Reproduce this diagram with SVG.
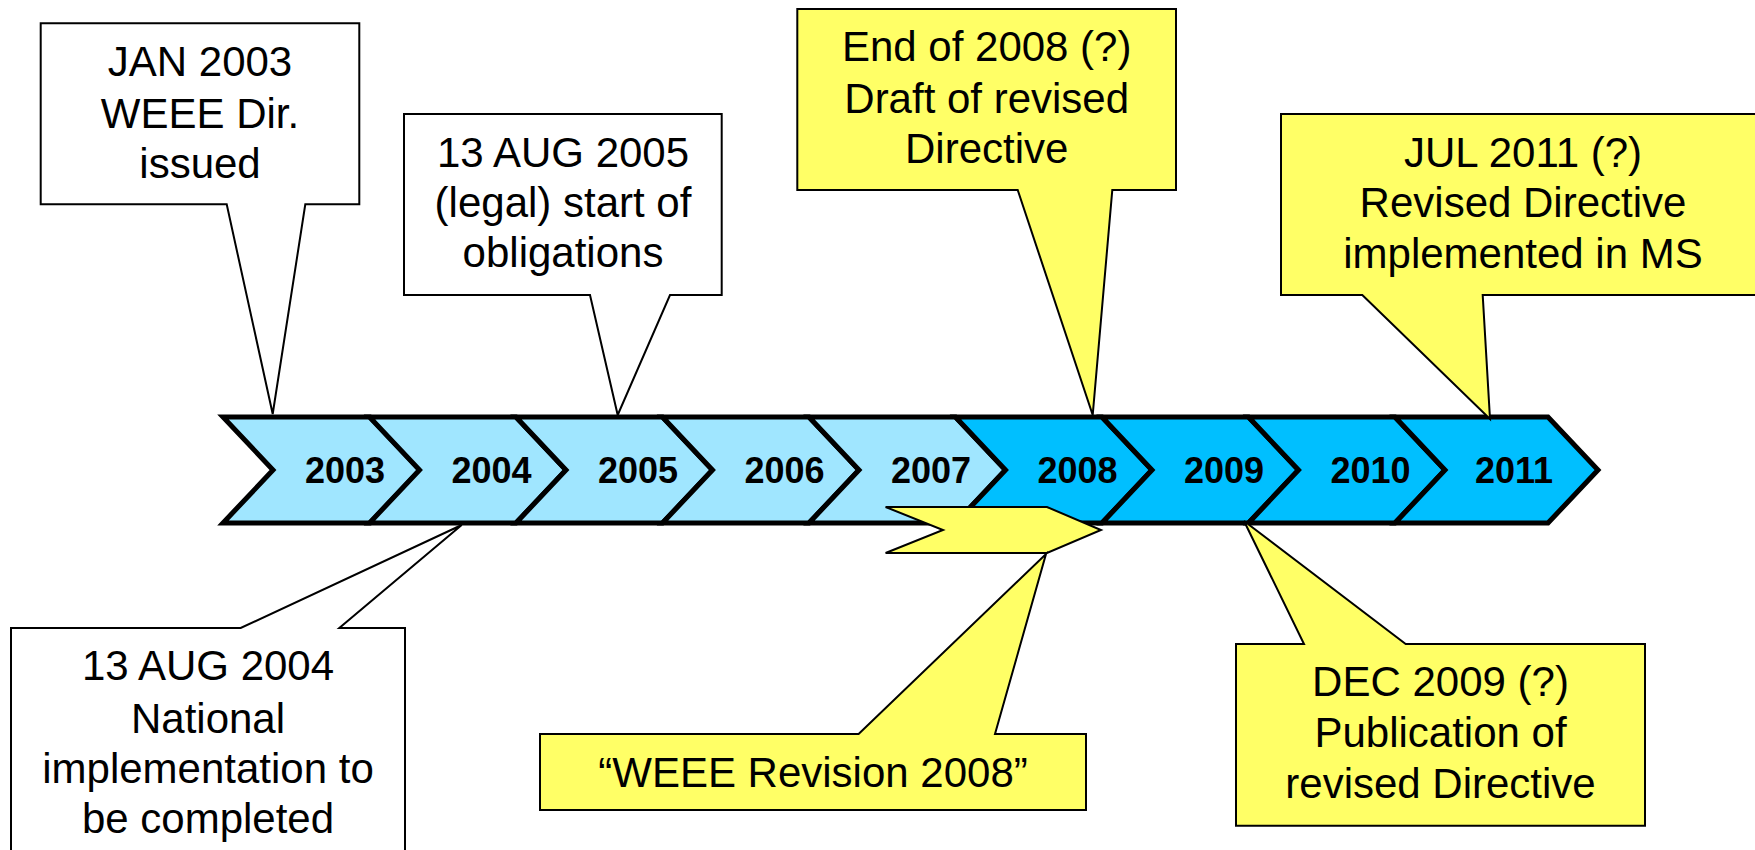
<svg xmlns="http://www.w3.org/2000/svg" width="1755" height="850" viewBox="0 0 1755 850">
<style>
.chev{stroke:#000;stroke-width:5;stroke-linejoin:miter}
.light{fill:#A0E6FF}
.dark{fill:#00BFFF}
.yr{font-family:"Liberation Sans",Arial,Helvetica,sans-serif;font-weight:bold;font-size:36px;fill:#000;text-anchor:middle}
.co{stroke:#000;stroke-width:2;stroke-linejoin:miter}
.w{fill:#FFFFFF}
.y{fill:#FFFF66}
.t{font-family:"Liberation Sans",Arial,Helvetica,sans-serif;font-size:42px;fill:#000;text-anchor:middle}
</style>
<rect width="1755" height="850" fill="#FFFFFF"/>
<g id="timeline">
<g id="y2003"><polygon class="chev light" points="223,417 370,417 420,470 370,523 223,523 273,470"/><text class="yr" x="345" y="483">2003</text></g>
<g id="y2004"><polygon class="chev light" points="369.5,417 516,417 566,470 516,523 369.5,523 419.5,470"/><text class="yr" x="491.5" y="483">2004</text></g>
<g id="y2005"><polygon class="chev light" points="516,417 662.5,417 712.5,470 662.5,523 516,523 566,470"/><text class="yr" x="638" y="483">2005</text></g>
<g id="y2006"><polygon class="chev light" points="662.5,417 809,417 859,470 809,523 662.5,523 712.5,470"/><text class="yr" x="784.5" y="483">2006</text></g>
<g id="y2007"><polygon class="chev light" points="809,417 955.5,417 1005.5,470 955.5,523 809,523 859,470"/><text class="yr" x="931" y="483">2007</text></g>
<g id="y2008"><polygon class="chev dark" points="955.5,417 1102,417 1152,470 1102,523 955.5,523 1005.5,470"/><text class="yr" x="1077.5" y="483">2008</text></g>
<g id="y2009"><polygon class="chev dark" points="1102,417 1248.5,417 1298.5,470 1248.5,523 1102,523 1152,470"/><text class="yr" x="1224" y="483">2009</text></g>
<g id="y2010"><polygon class="chev dark" points="1248.5,417 1395,417 1445,470 1395,523 1248.5,523 1298.5,470"/><text class="yr" x="1370.5" y="483">2010</text></g>
<g id="y2011"><polygon class="chev dark" points="1395,417 1548,417 1598,470 1548,523 1395,523 1445,470"/><text class="yr" x="1514" y="483">2011</text></g>
</g>
<g id="connectors">
<polygon id="revision-flag" class="co y" points="885.6,507 1047,507 1101,530 1047,553 885.6,553 943,530"/>
</g>
<g id="c-jan2003">
<path class="co w" d="M40.7,23.3 H359.3 V204.3 H305.3 L272.7,414 L226.7,204.3 H40.7 Z"/>
<text class="t" x="200" y="76">JAN 2003</text>
<text class="t" x="200" y="128">WEEE Dir.</text>
<text class="t" x="200" y="178">issued</text>
</g>
<g id="c-aug2005">
<path class="co w" d="M404,114 H721.7 V295 H670 L617.7,415 L590,295 H404 Z"/>
<text class="t" x="563" y="166.7">13 AUG 2005</text>
<text class="t" x="563" y="216.7">(legal) start of</text>
<text class="t" x="563" y="266.7">obligations</text>
</g>
<g id="c-end2008">
<path class="co y" d="M797.3,9 H1176 V190 H1112.3 L1092.7,415 L1017.7,190 H797.3 Z"/>
<text class="t" x="986.7" y="61">End of 2008 (?)</text>
<text class="t" x="986.7" y="112.7">Draft of revised</text>
<text class="t" x="986.7" y="163.3">Directive</text>
</g>
<g id="c-jul2011">
<path class="co y" d="M1281,114 H1765 V295 H1482.7 L1490,419 L1362.3,295 H1281 Z"/>
<text class="t" x="1523" y="166.7">JUL 2011 (?)</text>
<text class="t" x="1523" y="217.3">Revised Directive</text>
<text class="t" x="1523" y="268">implemented in MS</text>
</g>
<g id="c-aug2004">
<path class="co w" d="M11,628 H240.7 L461.7,525 L339.3,628 H405 V870 H11 Z"/>
<text class="t" x="208" y="680">13 AUG 2004</text>
<text class="t" x="208" y="733">National</text>
<text class="t" x="208" y="783">implementation to</text>
<text class="t" x="208" y="833">be completed</text>
</g>
<g id="c-dec2009">
<path class="co y" d="M1236,644 H1304 L1244,521 L1405.7,644 H1645 V825.7 H1236 Z"/>
<text class="t" x="1440.5" y="695.7">DEC 2009 (?)</text>
<text class="t" x="1440.5" y="746.7">Publication of</text>
<text class="t" x="1440.5" y="797.7">revised Directive</text>
</g>
<g id="c-revision">
<path class="co y" d="M540,734 H858.6 L1046,554 L995,734 H1086 V810 H540 Z"/>
<text class="t" x="813" y="786.7">“WEEE Revision 2008”</text>
</g>
</svg>
